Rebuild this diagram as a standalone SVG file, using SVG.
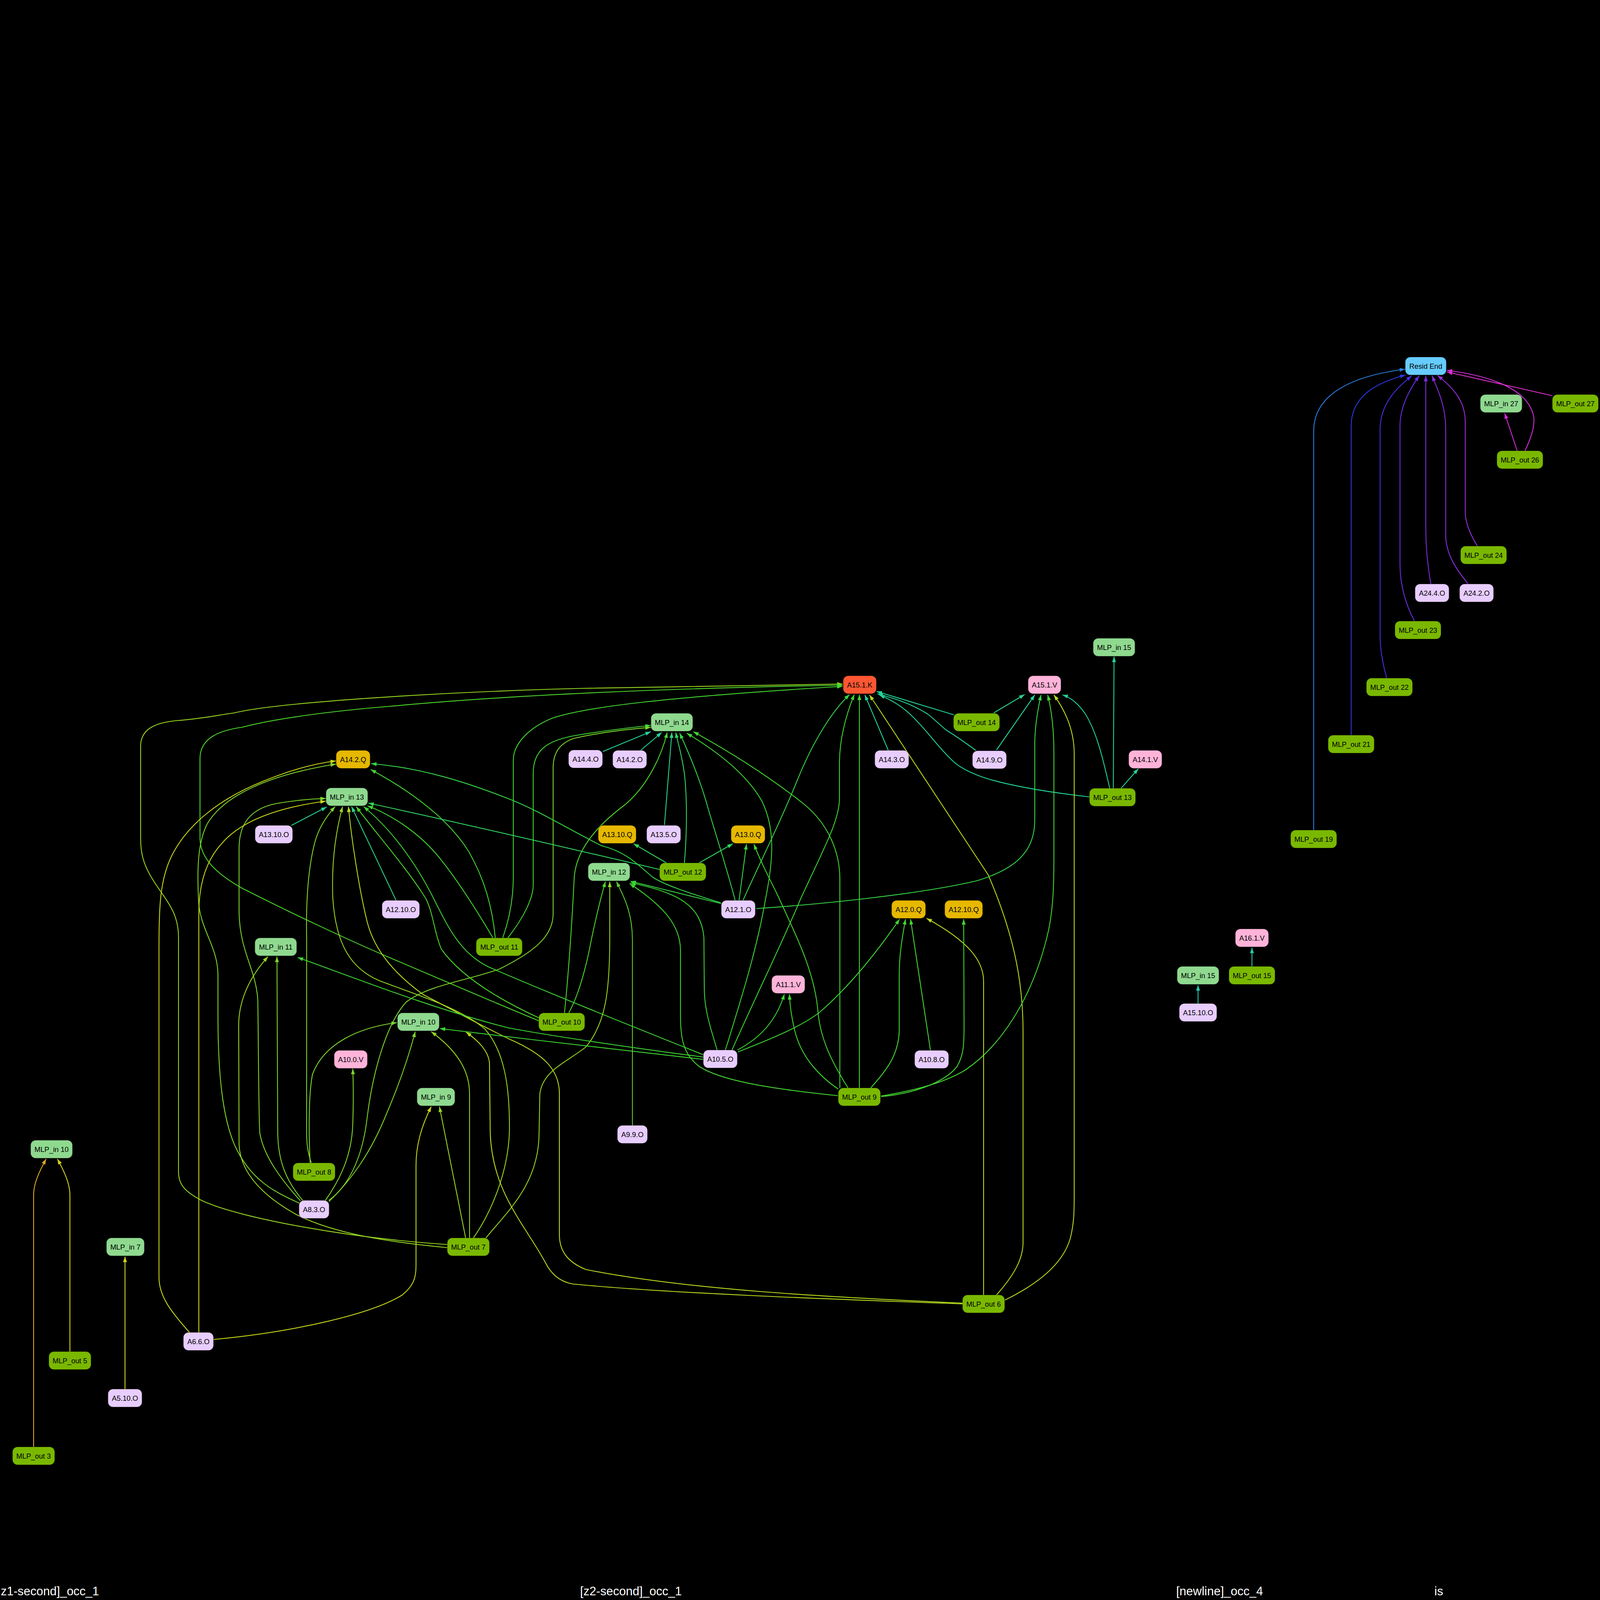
<svg xmlns="http://www.w3.org/2000/svg" width="4098" height="4232" viewBox="0 0 4098 4232">
<style>
.bg{fill:#000}
.n rect{stroke:#000;stroke-opacity:0.28;stroke-width:1.5}
.mo rect{fill:#7AB800}
.mi rect{fill:#8FD98F}
.o rect{fill:#E8CDFF}
.q rect{fill:#E6B800}
.v rect{fill:#FFB3D9}
.k rect{fill:#FF5733}
.r rect{fill:#66CCFF}
.n text{font-family:"Liberation Sans",Arial,sans-serif;font-size:18.3px;fill:#000;text-anchor:middle}
.lbl{font-family:"Liberation Sans",Arial,sans-serif;font-size:31px;fill:#fff}
#edges path{fill:none;stroke-width:2.2}
.b1{stroke:#2a7de1;marker-end:url(#m-b1)}
.b2{stroke:#2a3ae0;marker-end:url(#m-b2)}
.p1{stroke:#4a2ee0;marker-end:url(#m-p1)}
.p2{stroke:#6a2ee0;marker-end:url(#m-p2)}
.p3{stroke:#7a2ee0;marker-end:url(#m-p3)}
.p4{stroke:#8a2ee0;marker-end:url(#m-p4)}
.p5{stroke:#9b2ee0;marker-end:url(#m-p5)}
.m1{stroke:#d22ed8;marker-end:url(#m-m1)}
.m2{stroke:#e02ed0;marker-end:url(#m-m2)}
.t1{stroke:#22d39a;marker-end:url(#m-t1)}
.t2{stroke:#2ad48a;marker-end:url(#m-t2)}
.t3{stroke:#22ccaa;marker-end:url(#m-t3)}
.g1{stroke:#2fd65e;marker-end:url(#m-g1)}
.g2{stroke:#35d646;marker-end:url(#m-g2)}
.g3{stroke:#3cd632;marker-end:url(#m-g3)}
.g4{stroke:#42d630;marker-end:url(#m-g4)}
.g5{stroke:#4cd62a;marker-end:url(#m-g5)}
.g6{stroke:#5ccc33;marker-end:url(#m-g6)}
.y1{stroke:#7cd62a;marker-end:url(#m-y1)}
.y2{stroke:#96d620;marker-end:url(#m-y2)}
.y3{stroke:#b8dc1e;marker-end:url(#m-y3)}
.y4{stroke:#c8d818;marker-end:url(#m-y4)}
.y5{stroke:#d4d420;marker-end:url(#m-y5)}
.or{stroke:#e0a828;marker-end:url(#m-or)}
</style>
<defs>
<marker id="m-b1" viewBox="0 0 14 10" refX="14" refY="5" markerWidth="14" markerHeight="10" markerUnits="userSpaceOnUse" orient="auto"><path d="M0,0L14,5L0,10z" fill="#2a7de1"/></marker>
<marker id="m-b2" viewBox="0 0 14 10" refX="14" refY="5" markerWidth="14" markerHeight="10" markerUnits="userSpaceOnUse" orient="auto"><path d="M0,0L14,5L0,10z" fill="#2a3ae0"/></marker>
<marker id="m-p1" viewBox="0 0 14 10" refX="14" refY="5" markerWidth="14" markerHeight="10" markerUnits="userSpaceOnUse" orient="auto"><path d="M0,0L14,5L0,10z" fill="#4a2ee0"/></marker>
<marker id="m-p2" viewBox="0 0 14 10" refX="14" refY="5" markerWidth="14" markerHeight="10" markerUnits="userSpaceOnUse" orient="auto"><path d="M0,0L14,5L0,10z" fill="#6a2ee0"/></marker>
<marker id="m-p3" viewBox="0 0 14 10" refX="14" refY="5" markerWidth="14" markerHeight="10" markerUnits="userSpaceOnUse" orient="auto"><path d="M0,0L14,5L0,10z" fill="#7a2ee0"/></marker>
<marker id="m-p4" viewBox="0 0 14 10" refX="14" refY="5" markerWidth="14" markerHeight="10" markerUnits="userSpaceOnUse" orient="auto"><path d="M0,0L14,5L0,10z" fill="#8a2ee0"/></marker>
<marker id="m-p5" viewBox="0 0 14 10" refX="14" refY="5" markerWidth="14" markerHeight="10" markerUnits="userSpaceOnUse" orient="auto"><path d="M0,0L14,5L0,10z" fill="#9b2ee0"/></marker>
<marker id="m-m1" viewBox="0 0 14 10" refX="14" refY="5" markerWidth="14" markerHeight="10" markerUnits="userSpaceOnUse" orient="auto"><path d="M0,0L14,5L0,10z" fill="#d22ed8"/></marker>
<marker id="m-m2" viewBox="0 0 14 10" refX="14" refY="5" markerWidth="14" markerHeight="10" markerUnits="userSpaceOnUse" orient="auto"><path d="M0,0L14,5L0,10z" fill="#e02ed0"/></marker>
<marker id="m-t1" viewBox="0 0 14 10" refX="14" refY="5" markerWidth="14" markerHeight="10" markerUnits="userSpaceOnUse" orient="auto"><path d="M0,0L14,5L0,10z" fill="#22d39a"/></marker>
<marker id="m-t2" viewBox="0 0 14 10" refX="14" refY="5" markerWidth="14" markerHeight="10" markerUnits="userSpaceOnUse" orient="auto"><path d="M0,0L14,5L0,10z" fill="#2ad48a"/></marker>
<marker id="m-t3" viewBox="0 0 14 10" refX="14" refY="5" markerWidth="14" markerHeight="10" markerUnits="userSpaceOnUse" orient="auto"><path d="M0,0L14,5L0,10z" fill="#22ccaa"/></marker>
<marker id="m-g1" viewBox="0 0 14 10" refX="14" refY="5" markerWidth="14" markerHeight="10" markerUnits="userSpaceOnUse" orient="auto"><path d="M0,0L14,5L0,10z" fill="#2fd65e"/></marker>
<marker id="m-g2" viewBox="0 0 14 10" refX="14" refY="5" markerWidth="14" markerHeight="10" markerUnits="userSpaceOnUse" orient="auto"><path d="M0,0L14,5L0,10z" fill="#35d646"/></marker>
<marker id="m-g3" viewBox="0 0 14 10" refX="14" refY="5" markerWidth="14" markerHeight="10" markerUnits="userSpaceOnUse" orient="auto"><path d="M0,0L14,5L0,10z" fill="#3cd632"/></marker>
<marker id="m-g4" viewBox="0 0 14 10" refX="14" refY="5" markerWidth="14" markerHeight="10" markerUnits="userSpaceOnUse" orient="auto"><path d="M0,0L14,5L0,10z" fill="#42d630"/></marker>
<marker id="m-g5" viewBox="0 0 14 10" refX="14" refY="5" markerWidth="14" markerHeight="10" markerUnits="userSpaceOnUse" orient="auto"><path d="M0,0L14,5L0,10z" fill="#4cd62a"/></marker>
<marker id="m-g6" viewBox="0 0 14 10" refX="14" refY="5" markerWidth="14" markerHeight="10" markerUnits="userSpaceOnUse" orient="auto"><path d="M0,0L14,5L0,10z" fill="#5ccc33"/></marker>
<marker id="m-y1" viewBox="0 0 14 10" refX="14" refY="5" markerWidth="14" markerHeight="10" markerUnits="userSpaceOnUse" orient="auto"><path d="M0,0L14,5L0,10z" fill="#7cd62a"/></marker>
<marker id="m-y2" viewBox="0 0 14 10" refX="14" refY="5" markerWidth="14" markerHeight="10" markerUnits="userSpaceOnUse" orient="auto"><path d="M0,0L14,5L0,10z" fill="#96d620"/></marker>
<marker id="m-y3" viewBox="0 0 14 10" refX="14" refY="5" markerWidth="14" markerHeight="10" markerUnits="userSpaceOnUse" orient="auto"><path d="M0,0L14,5L0,10z" fill="#b8dc1e"/></marker>
<marker id="m-y4" viewBox="0 0 14 10" refX="14" refY="5" markerWidth="14" markerHeight="10" markerUnits="userSpaceOnUse" orient="auto"><path d="M0,0L14,5L0,10z" fill="#c8d818"/></marker>
<marker id="m-y5" viewBox="0 0 14 10" refX="14" refY="5" markerWidth="14" markerHeight="10" markerUnits="userSpaceOnUse" orient="auto"><path d="M0,0L14,5L0,10z" fill="#d4d420"/></marker>
<marker id="m-or" viewBox="0 0 14 10" refX="14" refY="5" markerWidth="14" markerHeight="10" markerUnits="userSpaceOnUse" orient="auto"><path d="M0,0L14,5L0,10z" fill="#e0a828"/></marker>
</defs>
<rect class="bg" x="0" y="0" width="4098" height="4232"/>
<g id="edges">
<path class="b1" d="M3363,2125 L3363,1104 C3363,1000 3480,960 3597,945"/>
<path class="b2" d="M3459,1882 L3459,1091 C3459,1010 3530,978 3598,960"/>
<path class="p1" d="M3550,1736 C3540,1700 3533,1660 3533,1626 L3533,1100 C3533,1030 3580,990 3614,962"/>
<path class="p2" d="M3621,1590 C3600,1550 3584,1500 3584,1444 L3584,1091 C3584,1040 3610,995 3633,962"/>
<path class="p3" d="M3663,1495 C3655,1450 3650,1400 3650,1353 L3650,962"/>
<path class="p4" d="M3758,1494 C3730,1460 3701,1420 3701,1369 L3701,1096 C3701,1040 3680,995 3666,962"/>
<path class="p5" d="M3782,1398 C3765,1370 3751,1340 3751,1311 L3751,1079 C3751,1020 3710,985 3680,961"/>
<path class="m1" d="M3904,1154 C3920,1120 3930,1090 3926,1065 C3910,990 3800,960 3704,948"/>
<path class="m2" d="M3974,1013 L3704,952"/>
<path class="m1" d="M3884,1154 L3852,1058"/>
<path class="y2" d="M1145,3186 C900,3170 620,3120 520,3075 C470,3050 457,3030 457,3000 L457,2400 C457,2330 420,2300 390,2250 C365,2210 360,2180 360,2146 L360,1910 C360,1865 400,1850 450,1845 C520,1840 560,1830 600,1825 C700,1800 1100,1772 1500,1762 L2157,1751"/>
<path class="g5" d="M1379,2613 C1250,2560 1100,2495 1001,2453 C900,2410 750,2340 620,2274 C560,2240 512,2200 512,2146 L512,1942 C512,1890 560,1870 619,1862 C700,1840 850,1820 1000,1808 C1300,1780 1700,1762 2157,1754"/>
<path class="g4" d="M1287,2401 C1305,2350 1314,2300 1314,2246 L1314,1947 C1314,1900 1360,1860 1415,1838 C1500,1810 1700,1785 2157,1757"/>
<path class="g2" d="M1902,2305 C1940,2220 2000,2100 2040,2000 C2080,1900 2130,1820 2175,1778"/>
<path class="g3" d="M1874,2688 C1930,2560 2000,2420 2050,2300 C2110,2170 2149,2100 2149,2044 L2149,1950 C2150,1880 2170,1820 2187,1778"/>
<path class="g4" d="M2200,2785 L2200,1778"/>
<path class="t1" d="M2274,1921 L2214,1779"/>
<path class="y3" d="M2551,3315 C2600,3260 2619,3220 2619,3180 L2619,2640 C2619,2500 2590,2380 2530,2240 L2226,1779"/>
<path class="t1" d="M2442,1830 L2244,1770"/>
<path class="t1" d="M2498,1921 C2470,1900 2440,1880 2421,1868 C2400,1850 2390,1840 2375,1828 C2330,1800 2290,1788 2246,1776"/>
<path class="t1" d="M2789,2040 C2700,2030 2600,2015 2526,1993 C2480,1978 2450,1960 2435,1944 C2400,1910 2380,1880 2351,1850 C2320,1815 2290,1795 2251,1779"/>
<path class="t2" d="M2544,1825 L2623,1778"/>
<path class="t1" d="M2551,1920 L2649,1779"/>
<path class="g2" d="M1936,2326 C2100,2315 2350,2290 2500,2255 C2600,2225 2649,2180 2649,2100 L2649,1900 C2650,1850 2658,1810 2665,1779"/>
<path class="g4" d="M2255,2806 C2350,2790 2420,2770 2470,2740 C2560,2680 2640,2560 2680,2400 C2695,2340 2698,2280 2698,2200 L2698,1930 C2698,1860 2690,1810 2682,1779"/>
<path class="y3" d="M2573,3328 C2650,3290 2720,3240 2740,3170 C2750,3130 2750,3100 2750,3050 L2750,1930 C2750,1860 2720,1810 2698,1779"/>
<path class="t1" d="M2841,2018 C2825,1950 2810,1880 2780,1830 C2760,1800 2740,1785 2720,1779"/>
<path class="t1" d="M2850,2018 L2852,1681"/>
<path class="t1" d="M2870,2018 L2914,1968"/>
<path class="g4" d="M1300,2401 C1340,2350 1365,2300 1365,2266 L1365,1980 C1365,1920 1400,1895 1478,1882 C1550,1870 1620,1862 1666,1857"/>
<path class="y1" d="M842,3073 C900,3030 930,2950 940,2860 C955,2740 990,2620 1040,2565 C1100,2520 1200,2510 1280,2480 C1360,2440 1416,2400 1416,2340 L1416,1966 C1416,1920 1440,1900 1470,1890 C1550,1872 1620,1866 1666,1862"/>
<path class="t1" d="M1543,1924 L1666,1873"/>
<path class="t1" d="M1640,1921 L1694,1875"/>
<path class="g5" d="M1445,2593 C1455,2500 1465,2350 1470,2246 C1475,2180 1520,2120 1600,2060 C1660,2010 1695,1930 1708,1875"/>
<path class="t2" d="M1701,2112 L1720,1875"/>
<path class="g1" d="M1752,2209 C1760,2120 1758,2030 1752,1980 C1745,1930 1735,1900 1730,1875"/>
<path class="g2" d="M1882,2305 C1860,2220 1830,2130 1810,2060 C1790,1990 1760,1920 1740,1877"/>
<path class="g3" d="M1857,2688 C1900,2550 1940,2420 1960,2300 C1980,2200 1985,2120 1950,2050 C1910,1980 1830,1920 1758,1877"/>
<path class="g4" d="M2150,2785 L2150,2250 C2150,2180 2120,2110 2060,2060 C1960,1980 1860,1920 1775,1873"/>
<path class="y4" d="M485,3411 C440,3360 407,3320 407,3270 L407,2420 C407,2320 410,2250 440,2190 C480,2110 560,2050 650,2010 C730,1975 800,1955 860,1948"/>
<path class="y1" d="M766,3080 C700,3050 640,3020 600,2930 C570,2860 558,2750 558,2600 L558,2497 C558,2420 510,2380 508,2300 C505,2230 505,2160 530,2110 C570,2040 680,1985 860,1956"/>
<path class="g4" d="M1268,2401 C1260,2320 1240,2250 1200,2180 C1150,2100 1060,2030 949,1970"/>
<path class="g2" d="M1845,2311 C1760,2285 1700,2265 1670,2245 C1630,2210 1600,2180 1540,2165 C1450,2120 1380,2075 1300,2044 C1200,2005 1080,1965 950,1955"/>
<path class="y1" d="M769,3074 C720,3020 675,2960 665,2900 C662,2850 662,2700 660,2560 C655,2480 615,2440 612,2338 L612,2172 C612,2110 640,2070 708,2057 C760,2048 800,2045 834,2044"/>
<path class="y4" d="M509,3411 L509,2338 C509,2260 530,2200 568,2159 C610,2110 690,2070 834,2051"/>
<path class="t1" d="M746,2113 L836,2066"/>
<path class="y1" d="M797,2977 C788,2950 785,2930 785,2900 L785,2400 C783,2300 790,2220 805,2160 C815,2120 835,2090 858,2065"/>
<path class="y2" d="M1212,3169 C1260,3100 1300,3000 1304,2900 C1306,2780 1290,2690 1242,2635 C1180,2580 1060,2545 970,2510 C900,2480 860,2420 852,2300 C848,2200 862,2120 877,2065"/>
<path class="y3" d="M2464,3336 C2100,3320 1750,3300 1500,3250 C1450,3230 1432,3200 1432,3160 L1432,2800 C1432,2740 1395,2700 1306,2661 C1230,2625 1130,2570 1083,2546 C1020,2500 960,2440 940,2360 C920,2280 900,2150 892,2065"/>
<path class="t2" d="M1014,2305 L900,2065"/>
<path class="g5" d="M1380,2606 C1280,2560 1180,2500 1130,2430 C1112,2390 1110,2340 1090,2300 C1040,2220 960,2130 912,2065"/>
<path class="g3" d="M1800,2700 C1600,2620 1400,2540 1250,2475 C1180,2440 1150,2380 1110,2300 C1070,2220 1010,2130 931,2065"/>
<path class="g4" d="M1262,2401 C1220,2330 1170,2250 1120,2190 C1070,2130 1000,2085 941,2063"/>
<path class="g1" d="M1689,2226 C1450,2170 1150,2100 943,2056"/>
<path class="g2" d="M1846,2313 L1614,2256"/>
<path class="g3" d="M1836,2688 C1815,2620 1803,2580 1803,2529 L1802,2400 C1795,2320 1740,2285 1614,2260"/>
<path class="g4" d="M2145,2805 C2000,2790 1850,2770 1790,2730 C1750,2700 1742,2660 1742,2600 L1742,2433 C1742,2370 1700,2320 1612,2262"/>
<path class="g5" d="M1456,2593 C1480,2550 1500,2480 1515,2400 C1530,2330 1540,2290 1550,2257"/>
<path class="y2" d="M1244,3169 C1300,3100 1380,3030 1380,2900 L1382,2800 C1390,2740 1450,2720 1500,2680 C1550,2620 1561,2540 1561,2400 L1561,2257"/>
<path class="g6" d="M1619,2881 L1619,2406 C1619,2340 1600,2300 1578,2257"/>
<path class="y1" d="M775,3073 C730,3020 712,2970 711,2900 L709,2449"/>
<path class="y2" d="M1145,3194 C1000,3180 860,3160 760,3110 C670,3060 615,3000 612,2930 L611,2625 C611,2560 640,2500 686,2449"/>
<path class="g3" d="M1800,2706 C1600,2680 1400,2650 1300,2631 C1100,2580 900,2500 762,2451"/>
<path class="y1" d="M794,2977 C790,2900 790,2800 800,2750 C830,2670 920,2630 1016,2618"/>
<path class="y1" d="M842,3076 C900,3020 950,2950 990,2850 C1020,2780 1045,2710 1063,2641"/>
<path class="y2" d="M1202,3169 L1202,2800 C1202,2740 1170,2690 1104,2641"/>
<path class="y3" d="M2464,3338 C2100,3325 1700,3310 1466,3287 C1430,3280 1410,3260 1395,3230 C1340,3130 1260,3050 1255,2900 L1253,2720 C1250,2690 1225,2665 1193,2642"/>
<path class="g3" d="M1800,2712 C1600,2690 1350,2660 1126,2633"/>
<path class="y1" d="M833,3073 C870,3020 900,2960 903,2880 C905,2820 905,2780 903,2736"/>
<path class="y4" d="M547,3429 C750,3410 950,3365 1030,3315 C1060,3290 1065,3270 1065,3240 L1065,2983 C1065,2930 1080,2880 1104,2833"/>
<path class="y2" d="M1192,3169 L1125,2833"/>
<path class="g1" d="M1706,2209 L1622,2160"/>
<path class="g1" d="M1790,2209 L1876,2160"/>
<path class="g2" d="M1892,2305 L1911,2161"/>
<path class="g4" d="M2171,2785 C2130,2720 2100,2660 2094,2590 C2085,2480 2030,2380 1990,2290 C1965,2240 1945,2200 1930,2161"/>
<path class="g3" d="M1889,2693 C1960,2665 2050,2630 2100,2590 C2180,2520 2250,2430 2303,2353"/>
<path class="g4" d="M2229,2785 C2270,2740 2300,2700 2302,2640 L2302,2500 C2302,2440 2310,2400 2318,2353"/>
<path class="g4" d="M2382,2689 L2331,2353"/>
<path class="y3" d="M2518,3315 L2518,2512 C2518,2460 2480,2410 2372,2351"/>
<path class="g4" d="M2256,2807 C2340,2800 2420,2770 2450,2730 C2468,2700 2468,2670 2468,2620 L2467,2353"/>
<path class="g3" d="M1888,2688 C1940,2660 1985,2620 2008,2545"/>
<path class="g4" d="M2146,2788 C2090,2750 2050,2700 2035,2640 C2025,2600 2022,2570 2021,2545"/>
<path class="t3" d="M3067,2569 L3067,2522"/>
<path class="t3" d="M3205,2474 L3205,2426"/>
<path class="or" d="M86,3704 L86,3060 C86,3030 100,3000 118,2967"/>
<path class="y5" d="M179,3460 L179,3060 C179,3030 165,3000 147,2967"/>
<path class="y5" d="M320,3556 L320,3217"/>
</g>
<g id="n-resid-end" class="n r"><rect x="3597.5" y="914" width="105" height="46" rx="13"/><text x="3650" y="943.5">Resid End</text></g>
<g id="n-mlp-in-27" class="n mi"><rect x="3789.5" y="1010" width="107" height="46" rx="13"/><text x="3843" y="1039.5">MLP_in 27</text></g>
<g id="n-mlp-out-27" class="n mo"><rect x="3974" y="1010" width="118" height="46" rx="13"/><text x="4033" y="1039.5">MLP_out 27</text></g>
<g id="n-mlp-out-26" class="n mo"><rect x="3832" y="1154" width="118" height="46" rx="13"/><text x="3891" y="1183.5">MLP_out 26</text></g>
<g id="n-mlp-out-24" class="n mo"><rect x="3739" y="1398" width="118" height="46" rx="13"/><text x="3798" y="1427.5">MLP_out 24</text></g>
<g id="n-a24-4-o" class="n o"><rect x="3622.5" y="1495" width="87" height="46" rx="13"/><text x="3666" y="1524.5">A24.4.O</text></g>
<g id="n-a24-2-o" class="n o"><rect x="3736.5" y="1495" width="87" height="46" rx="13"/><text x="3780" y="1524.5">A24.2.O</text></g>
<g id="n-mlp-out-23" class="n mo"><rect x="3571" y="1590" width="118" height="46" rx="13"/><text x="3630" y="1619.5">MLP_out 23</text></g>
<g id="n-mlp-out-22" class="n mo"><rect x="3498" y="1736" width="118" height="46" rx="13"/><text x="3557" y="1765.5">MLP_out 22</text></g>
<g id="n-mlp-out-21" class="n mo"><rect x="3400" y="1882" width="118" height="46" rx="13"/><text x="3459" y="1911.5">MLP_out 21</text></g>
<g id="n-mlp-out-19" class="n mo"><rect x="3304" y="2125" width="118" height="46" rx="13"/><text x="3363" y="2154.5">MLP_out 19</text></g>
<g id="n-mlp-in-15-a" class="n mi"><rect x="2798.5" y="1634" width="107" height="46" rx="13"/><text x="2852" y="1663.5">MLP_in 15</text></g>
<g id="n-a15-1-k" class="n k"><rect x="2158.5" y="1730" width="85" height="46" rx="13"/><text x="2201" y="1759.5">A15.1.K</text></g>
<g id="n-a15-1-v" class="n v"><rect x="2632" y="1730" width="84" height="46" rx="13"/><text x="2674" y="1759.5">A15.1.V</text></g>
<g id="n-mlp-in-14" class="n mi"><rect x="1666.5" y="1826" width="107" height="46" rx="13"/><text x="1720" y="1855.5">MLP_in 14</text></g>
<g id="n-mlp-out-14" class="n mo"><rect x="2441" y="1826" width="118" height="46" rx="13"/><text x="2500" y="1855.5">MLP_out 14</text></g>
<g id="n-a14-2-q" class="n q"><rect x="860.5" y="1921" width="87" height="46" rx="13"/><text x="904" y="1950.5">A14.2.Q</text></g>
<g id="n-a14-4-o" class="n o"><rect x="1455.5" y="1920" width="87" height="46" rx="13"/><text x="1499" y="1949.5">A14.4.O</text></g>
<g id="n-a14-2-o" class="n o"><rect x="1568.5" y="1921" width="87" height="46" rx="13"/><text x="1612" y="1950.5">A14.2.O</text></g>
<g id="n-a14-3-o" class="n o"><rect x="2239.5" y="1921" width="87" height="46" rx="13"/><text x="2283" y="1950.5">A14.3.O</text></g>
<g id="n-a14-9-o" class="n o"><rect x="2489.5" y="1922" width="87" height="46" rx="13"/><text x="2533" y="1951.5">A14.9.O</text></g>
<g id="n-a14-1-v" class="n v"><rect x="2889.5" y="1921" width="85" height="46" rx="13"/><text x="2932" y="1950.5">A14.1.V</text></g>
<g id="n-mlp-in-13" class="n mi"><rect x="834.5" y="2017" width="107" height="46" rx="13"/><text x="888" y="2046.5">MLP_in 13</text></g>
<g id="n-mlp-out-13" class="n mo"><rect x="2789" y="2018" width="118" height="46" rx="13"/><text x="2848" y="2047.5">MLP_out 13</text></g>
<g id="n-a13-10-o" class="n o"><rect x="653" y="2113" width="96" height="46" rx="13"/><text x="701" y="2142.5">A13.10.O</text></g>
<g id="n-a13-10-q" class="n q"><rect x="1531.5" y="2113" width="97" height="46" rx="13"/><text x="1580" y="2142.5">A13.10.Q</text></g>
<g id="n-a13-5-o" class="n o"><rect x="1655.5" y="2113" width="87" height="46" rx="13"/><text x="1699" y="2142.5">A13.5.O</text></g>
<g id="n-a13-0-q" class="n q"><rect x="1871.5" y="2113" width="87" height="46" rx="13"/><text x="1915" y="2142.5">A13.0.Q</text></g>
<g id="n-mlp-in-12" class="n mi"><rect x="1505.5" y="2209" width="107" height="46" rx="13"/><text x="1559" y="2238.5">MLP_in 12</text></g>
<g id="n-mlp-out-12" class="n mo"><rect x="1688.5" y="2209" width="119" height="46" rx="13"/><text x="1748" y="2238.5">MLP_out 12</text></g>
<g id="n-a12-10-o" class="n o"><rect x="978" y="2305" width="96" height="46" rx="13"/><text x="1026" y="2334.5">A12.10.O</text></g>
<g id="n-a12-1-o" class="n o"><rect x="1846.5" y="2305" width="87" height="46" rx="13"/><text x="1890" y="2334.5">A12.1.O</text></g>
<g id="n-a12-0-q" class="n q"><rect x="2282.5" y="2305" width="87" height="46" rx="13"/><text x="2326" y="2334.5">A12.0.Q</text></g>
<g id="n-a12-10-q" class="n q"><rect x="2418.5" y="2305" width="97" height="46" rx="13"/><text x="2467" y="2334.5">A12.10.Q</text></g>
<g id="n-a16-1-v" class="n v"><rect x="3162.5" y="2378" width="85" height="46" rx="13"/><text x="3205" y="2407.5">A16.1.V</text></g>
<g id="n-mlp-in-11" class="n mi"><rect x="652.5" y="2401" width="107" height="46" rx="13"/><text x="706" y="2430.5">MLP_in 11</text></g>
<g id="n-mlp-out-11" class="n mo"><rect x="1219" y="2401" width="118" height="46" rx="13"/><text x="1278" y="2430.5">MLP_out 11</text></g>
<g id="n-mlp-in-15-b" class="n mi"><rect x="3013.5" y="2474" width="107" height="46" rx="13"/><text x="3067" y="2503.5">MLP_in 15</text></g>
<g id="n-mlp-out-15" class="n mo"><rect x="3146" y="2474" width="118" height="46" rx="13"/><text x="3205" y="2503.5">MLP_out 15</text></g>
<g id="n-a11-1-v" class="n v"><rect x="1975.5" y="2497" width="85" height="46" rx="13"/><text x="2018" y="2526.5">A11.1.V</text></g>
<g id="n-a15-10-o" class="n o"><rect x="3019" y="2569" width="96" height="46" rx="13"/><text x="3067" y="2598.5">A15.10.O</text></g>
<g id="n-mlp-in-10-c" class="n mi"><rect x="1017.5" y="2593" width="107" height="46" rx="13"/><text x="1071" y="2622.5">MLP_in 10</text></g>
<g id="n-mlp-out-10" class="n mo"><rect x="1379" y="2593" width="118" height="46" rx="13"/><text x="1438" y="2622.5">MLP_out 10</text></g>
<g id="n-a10-0-v" class="n v"><rect x="855.5" y="2689" width="85" height="46" rx="13"/><text x="898" y="2718.5">A10.0.V</text></g>
<g id="n-a10-5-o" class="n o"><rect x="1800.5" y="2688" width="87" height="46" rx="13"/><text x="1844" y="2717.5">A10.5.O</text></g>
<g id="n-a10-8-o" class="n o"><rect x="2341.5" y="2689" width="87" height="46" rx="13"/><text x="2385" y="2718.5">A10.8.O</text></g>
<g id="n-mlp-in-9" class="n mi"><rect x="1067.5" y="2785" width="97" height="46" rx="13"/><text x="1116" y="2814.5">MLP_in 9</text></g>
<g id="n-mlp-out-9" class="n mo"><rect x="2146" y="2785" width="108" height="46" rx="13"/><text x="2200" y="2814.5">MLP_out 9</text></g>
<g id="n-a9-9-o" class="n o"><rect x="1580.5" y="2881" width="77" height="46" rx="13"/><text x="1619" y="2910.5">A9.9.O</text></g>
<g id="n-mlp-in-10-l" class="n mi"><rect x="78.5" y="2919" width="107" height="46" rx="13"/><text x="132" y="2948.5">MLP_in 10</text></g>
<g id="n-mlp-out-8" class="n mo"><rect x="750" y="2977" width="108" height="46" rx="13"/><text x="804" y="3006.5">MLP_out 8</text></g>
<g id="n-a8-3-o" class="n o"><rect x="765.5" y="3073" width="77" height="46" rx="13"/><text x="804" y="3102.5">A8.3.O</text></g>
<g id="n-mlp-in-7" class="n mi"><rect x="272.5" y="3169" width="97" height="46" rx="13"/><text x="321" y="3198.5">MLP_in 7</text></g>
<g id="n-mlp-out-7" class="n mo"><rect x="1145" y="3169" width="108" height="46" rx="13"/><text x="1199" y="3198.5">MLP_out 7</text></g>
<g id="n-mlp-out-6" class="n mo"><rect x="2464" y="3315" width="108" height="46" rx="13"/><text x="2518" y="3344.5">MLP_out 6</text></g>
<g id="n-a6-6-o" class="n o"><rect x="469.5" y="3411" width="77" height="46" rx="13"/><text x="508" y="3440.5">A6.6.O</text></g>
<g id="n-mlp-out-5" class="n mo"><rect x="125" y="3460" width="108" height="46" rx="13"/><text x="179" y="3489.5">MLP_out 5</text></g>
<g id="n-a5-10-o" class="n o"><rect x="276.5" y="3556" width="87" height="46" rx="13"/><text x="320" y="3585.5">A5.10.O</text></g>
<g id="n-mlp-out-3" class="n mo"><rect x="32" y="3704" width="108" height="46" rx="13"/><text x="86" y="3733.5">MLP_out 3</text></g>
<g id="labels">
<text class="lbl" x="2" y="4084">z1-second]_occ_1</text>
<text class="lbl" x="1485" y="4084">[z2-second]_occ_1</text>
<text class="lbl" x="3011" y="4084">[newline]_occ_4</text>
<text class="lbl" x="3672" y="4084">is</text>
</g>
</svg>
